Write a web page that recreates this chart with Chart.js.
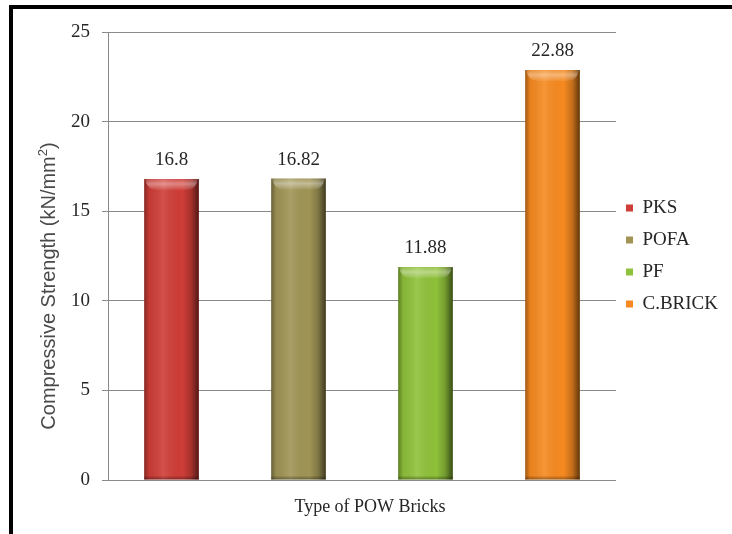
<!DOCTYPE html>
<html>
<head>
<meta charset="utf-8">
<script src="https://cdn.jsdelivr.net/npm/chart.js@4/dist/chart.umd.min.js"></script>
<style>
  html, body { margin: 0; padding: 0; background: #fff; }
  #wrap { position: relative; width: 732px; height: 534px; overflow: hidden; }
  #wrap canvas { position: absolute; left: 0; top: 0; }
  #frame {
    position: absolute; left: 9px; top: 5px; right: -10px; bottom: -10px;
    border-top: 4px solid #000; border-left: 4px solid #000; pointer-events: none;
  }
</style>
</head>
<body>
<div id="wrap">
  <canvas id="chart" width="732" height="534"></canvas>
  <div id="frame"></div>
</div>
<script>
// Compressive strength of the brick types
const brickTypes = ['PKS', 'POFA', 'PF', 'C.BRICK'];
const strength = [16.8, 16.82, 11.88, 22.88];
const barColors = ['#cf3d37', '#a09455', '#8fc13a', '#f68a20'];
const yTickValues = [0, 5, 10, 15, 20, 25];

const yTitle = 'Compressive Strength (kN/mm';
const yTitleSup = '2';
const yTitleEnd = ')';
const xTitle = 'Type of POW Bricks';

const SERIF = '"Liberation Serif", "Times New Roman", serif';
const SANS = '"Liberation Sans", Arial, sans-serif';

// Fixed legend column width so the plot area ends where the gridlines stop;
// the legend is centred on the plot area rather than the full canvas height
const legendPlace = {
  id: 'legendPlace',
  afterInit(chart) {
    const lg = chart.legend;
    const fit = lg.fit.bind(lg);
    lg.fit = function () { fit(); this.width = 116; };
  },
  afterLayout(chart) {
    const lg = chart.legend, a = chart.chartArea;
    lg.top = a.top;
    lg.bottom = a.bottom;
    lg.height = a.bottom - a.top;
    lg.left -= 3;
  }
};

// Cylinder-like shading and a bevelled top on each bar
const barShading = {
  id: 'barShading',
  afterDatasetsDraw(chart) {
    const ctx = chart.ctx;
    chart.data.datasets.forEach((ds, di) => {
      const meta = chart.getDatasetMeta(di);
      meta.data.forEach(el => {
        const { x, y, base, width } = el.getProps(['x', 'y', 'base', 'width'], true);
        const l = x - width / 2, r = x + width / 2, t = Math.min(y, base), b = Math.max(y, base);
        ctx.save();
        const g = ctx.createLinearGradient(l, 0, r, 0);
        g.addColorStop(0, 'rgba(0,0,0,0.35)');
        g.addColorStop(0.09, 'rgba(0,0,0,0.06)');
        g.addColorStop(0.35, 'rgba(255,255,255,0.10)');
        g.addColorStop(0.7, 'rgba(0,0,0,0.0)');
        g.addColorStop(0.86, 'rgba(0,0,0,0.2)');
        g.addColorStop(1, 'rgba(0,0,0,0.6)');
        ctx.fillStyle = g;
        ctx.fillRect(l, t, r - l, b - t);

        // top bevel
        const bh = 11, inset = 8;
        const tg = ctx.createLinearGradient(0, t, 0, t + bh);
        tg.addColorStop(0, 'rgba(255,255,255,0.10)');
        tg.addColorStop(0.45, 'rgba(255,255,255,0.38)');
        tg.addColorStop(1, 'rgba(255,255,255,0.05)');
        ctx.beginPath();
        ctx.moveTo(l + 1, t);
        ctx.lineTo(r - 1, t);
        ctx.quadraticCurveTo(r - 3, t + bh, r - inset - 4, t + bh);
        ctx.lineTo(l + inset + 4, t + bh);
        ctx.quadraticCurveTo(l + 3, t + bh, l + 1, t);
        ctx.closePath();
        ctx.fillStyle = tg;
        ctx.fill();

        // bottom edge
        const btg = ctx.createLinearGradient(0, b - 4, 0, b);
        btg.addColorStop(0, 'rgba(0,0,0,0)');
        btg.addColorStop(1, 'rgba(0,0,0,0.35)');
        ctx.fillStyle = btg;
        ctx.fillRect(l, b - 4, r - l, 4);
        ctx.restore();
      });
    });
  }
};

// Value labels above the bars
const valueLabels = {
  id: 'valueLabels',
  afterDatasetsDraw(chart) {
    const ctx = chart.ctx;
    ctx.save();
    ctx.font = '19px ' + SERIF;
    ctx.fillStyle = '#262626';
    ctx.textAlign = 'center';
    ctx.textBaseline = 'alphabetic';
    chart.data.datasets.forEach((ds, di) => {
      chart.getDatasetMeta(di).data.forEach((el, i) => {
        ctx.fillText(String(ds.data[i]), el.x, el.y - 14);
      });
    });
    ctx.restore();
  }
};

// Axis titles (the y title carries a superscript)
const axisTitles = {
  id: 'axisTitles',
  afterDraw(chart) {
    const ctx = chart.ctx;
    ctx.save();
    ctx.fillStyle = '#4a4a4a';
    ctx.textBaseline = 'middle';
    ctx.textAlign = 'left';
    ctx.translate(49, 286);
    ctx.rotate(-Math.PI / 2);
    const mainFont = '20px ' + SANS, supFont = '13px ' + SANS;
    ctx.font = mainFont;
    const w1 = ctx.measureText(yTitle).width;
    const w3 = ctx.measureText(yTitleEnd).width;
    ctx.font = supFont;
    const w2 = ctx.measureText(yTitleSup).width;
    let sx = -(w1 + w2 + w3) / 2;
    ctx.font = mainFont;
    ctx.fillText(yTitle, sx, 0);
    ctx.font = supFont;
    ctx.fillText(yTitleSup, sx + w1, -6);
    ctx.font = mainFont;
    ctx.fillText(yTitleEnd, sx + w1 + w2, 0);
    ctx.restore();

    ctx.save();
    ctx.fillStyle = '#262626';
    ctx.font = '18px ' + SERIF;
    ctx.textAlign = 'center';
    ctx.textBaseline = 'middle';
    ctx.fillText(xTitle, 370, 507);
    ctx.restore();
  }
};

new Chart(document.getElementById('chart'), {
  type: 'bar',
  data: {
    labels: [''],
    datasets: brickTypes.map((name, i) => ({
      label: name,
      data: [strength[i]],
      backgroundColor: barColors[i],
      borderWidth: 0,
      barPercentage: 0.43,
      categoryPercentage: 1
    }))
  },
  options: {
    responsive: false,
    animation: false,
    layout: { padding: { top: 32, right: 0, bottom: 0, left: 0 } },
    plugins: {
      legend: {
        position: 'right',
        labels: {
          font: { family: SERIF, size: 19 },
          color: '#262626',
          boxWidth: 7,
          boxHeight: 7,
          padding: 13
        }
      },
      tooltip: { enabled: false }
    },
    scales: {
      x: {
        grid: { display: false },
        border: { display: false },
        ticks: { display: false },
        afterFit: s => { s.height = 54; }
      },
      y: {
        min: 0,
        max: 25,
        afterBuildTicks: s => { s.ticks = yTickValues.map(v => ({ value: v })); },
        ticks: { font: { family: SERIF, size: 19 }, color: '#262626', padding: 12 },
        grid: { color: '#8a8a8a', tickLength: 6, lineWidth: 1 },
        border: { color: '#8a8a8a' },
        afterFit: s => { s.width = 108; }
      }
    }
  },
  plugins: [legendPlace, barShading, valueLabels, axisTitles]
});
</script>
</body>
</html>
